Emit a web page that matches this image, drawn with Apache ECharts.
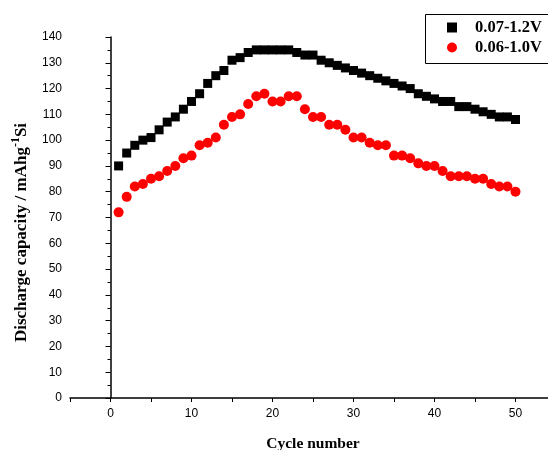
<!DOCTYPE html>
<html><head><meta charset="utf-8">
<script src="https://cdn.jsdelivr.net/npm/echarts@6/dist/echarts.min.js"></script>
<style>html,body{margin:0;padding:0;background:#fff}#c{width:548px;height:450px}</style>
</head><body><div id="c"></div>
<script>
var cycles = [];
for (var i = 1; i <= 50; i++) cycles.push(i);
var seriesNames = ['0.07-1.2V', '0.06-1.0V'];
var v12 = [90,95,98,100,101,104,107,109,112,115,118,122,125,127,131,132,134,135,135,135,135,135,134,133,133,131,130,129,128,127,126,125,124,123,122,121,120,118,117,116,115,115,113,113,112,111,110,109,109,108];
var v10 = [72,78,82,83,85,86,88,90,93,94,98,99,101,106,109,110,114,117,118,115,115,117,117,112,109,109,106,106,104,101,101,99,98,98,94,94,93,91,90,90,88,86,86,86,85,85,83,82,82,80];
var xTicks = [0,10,20,30,40,50];

function pairs(v){ return v.map(function(y,i){ return [cycles[i], y]; }); }

var chart = echarts.init(document.getElementById('c'), null, {renderer:'canvas'});
chart.setOption({
  animation:false,
  backgroundColor:'#fff',
  grid:{left:70, top:37, width:486, height:361, containLabel:false, outerBoundsMode:'none'},
  xAxis:{
    type:'value', min:-5, max:55, interval:5,
    name:'Cycle number', nameLocation:'middle', nameGap:38,
    nameTextStyle:{fontFamily:'Liberation Serif', fontWeight:'bold', fontSize:15.5, color:'#000'},
    axisLine:{lineStyle:{color:'#000', width:1.5}},
    axisTick:{inside:false, length:4, lineStyle:{color:'#000'}},
    axisLabel:{margin:10, fontFamily:'Liberation Sans', fontSize:12, color:'#000', showMaxLabel:true, showMinLabel:true,
      formatter:function(v){ return xTicks.indexOf(v) >= 0 ? String(v) : ''; }},
    splitLine:{show:false}
  },
  yAxis:{
    type:'value', min:0, max:140, interval:10,
    name:'{a|Discharge capacity / mAhg}{s|-1}{a|Si}', nameLocation:'middle', nameGap:40, nameRotate:90,
    nameTextStyle:{padding:[0,30,0,0], rich:{
      a:{fontFamily:'Liberation Serif', fontWeight:'bold', fontSize:17, color:'#000', verticalAlign:'bottom', lineHeight:20},
      s:{fontFamily:'Liberation Serif', fontWeight:'bold', fontSize:12, color:'#000', verticalAlign:'top', lineHeight:20, padding:[0,0,9,0]}
    }},
    axisLine:{show:true, lineStyle:{color:'#000', width:1.5}},
    axisTick:{inside:false, length:5, lineStyle:{color:'#000'}},
    minorTick:{show:true, splitNumber:2, length:3, lineStyle:{color:'#000'}},
    axisLabel:{margin:8, fontFamily:'Liberation Sans', fontSize:12, color:'#000'},
    splitLine:{show:false}
  },
  legend:{
    orient:'vertical', left:442, top:14, itemGap:3, itemWidth:10, itemHeight:10,
    textStyle:{fontFamily:'Liberation Serif', fontWeight:'bold', fontSize:16.5, color:'#000', padding:[0,0,0,13]},
    data:[{name:seriesNames[0], icon:'rect'},{name:seriesNames[1], icon:'circle'}]
  },
  graphic:[{type:'rect', left:423, top:12, shape:{width:140, height:49}, style:{fill:'none', stroke:'#000', lineWidth:1}, z:100}],
  series:[
    {name:seriesNames[0], type:'scatter', symbol:'rect', symbolSize:9, itemStyle:{color:'#000', opacity:1}, data:pairs(v12)},
    {name:seriesNames[1], type:'scatter', symbol:'circle', symbolSize:10, itemStyle:{color:'#ff0000', opacity:1}, data:pairs(v10)}
  ]
});
</script></body></html>
